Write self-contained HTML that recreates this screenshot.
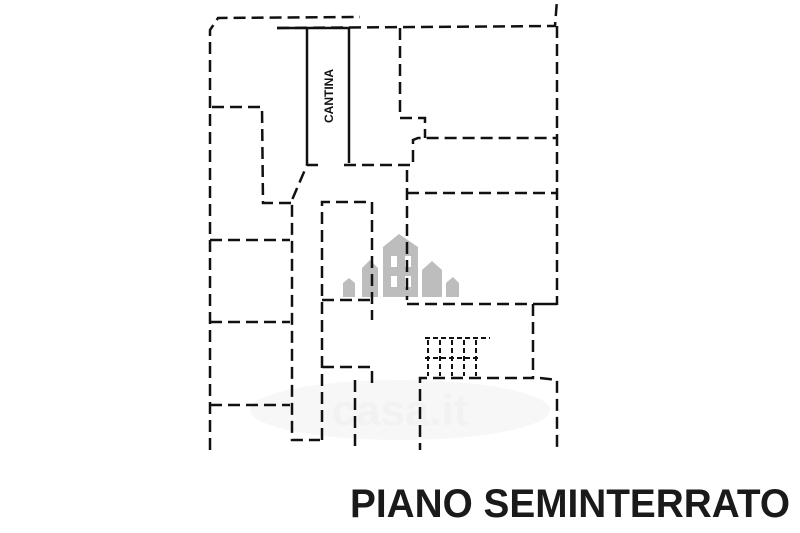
<!DOCTYPE html>
<html><head><meta charset="utf-8"><style>
html,body{margin:0;padding:0;background:#fff;width:800px;height:533px;overflow:hidden}
svg{display:block}
</style></head><body>
<svg width="800" height="533" viewBox="0 0 800 533" xmlns="http://www.w3.org/2000/svg">
<g opacity="0.08">
<ellipse cx="400" cy="410" rx="150" ry="30" fill="#999"/>
</g>
<text x="400" y="425" font-family="Liberation Sans, sans-serif" font-size="44" font-weight="bold" fill="#f2f2f2" text-anchor="middle">casa.it</text>
<g fill="#bdbdbd">
<polygon points="343,297 343,283 349,278 355,283 355,297"/>
<polygon points="362,297 362,268 370,260 378,268 378,297"/>
<polygon points="383,297 383,247 399,234 418,247 418,297"/>
<polygon points="422,297 422,270 432,261 442,270 442,297"/>
<polygon points="446,297 446,283 453,277 459,283 459,297"/>
<rect x="391" y="256" width="6" height="11" fill="#fff"/><rect x="405" y="256" width="6" height="11" fill="#fff"/>
<rect x="391" y="276" width="6" height="11" fill="#fff"/><rect x="405" y="276" width="6" height="11" fill="#fff"/>
</g>
<g fill="none" stroke="#111" stroke-width="2.5" stroke-dasharray="12 6">
<polyline points="210,450 210,30 218,18 360,17"/>
<polyline points="277,28 555,26 557,0"/>
<line x1="557" y1="26" x2="557" y2="305"/>
<polyline points="212,107 262,107 263,203 292,203"/>
<polyline points="318,165 307,165 292,200 292,440 320,440"/>
<polyline points="344,165 413,165 413,140 418,138 557,138"/>
<polyline points="400,28 400,118 425,118 425,138"/>
<polyline points="407,170 407,300"/>
<line x1="407" y1="193" x2="557" y2="193"/>
<polyline points="322,440 322,202 372,202 372,320"/>
<line x1="322" y1="300" x2="372" y2="300"/>
<polyline points="322,367 372,367 372,385"/>
<line x1="355" y1="380" x2="355" y2="450"/>
<line x1="210" y1="240" x2="290" y2="240"/>
<line x1="210" y1="322" x2="290" y2="322"/>
<line x1="210" y1="405" x2="290" y2="405"/>
<line x1="407" y1="304" x2="545" y2="304"/>
<polyline points="533,304 533,378 420,378 420,450"/>
<polyline points="545,304 557,304"/>
<polyline points="540,378 557,380 557,450"/>
</g>
<g stroke="#111" stroke-width="2.5" fill="none">
<line x1="307" y1="28" x2="307" y2="165"/>
<line x1="349" y1="28" x2="349" y2="163"/>
<line x1="277" y1="28" x2="350" y2="28"/>
</g>
<g stroke="#111" stroke-width="2" fill="none" stroke-dasharray="5 3">
<line x1="425" y1="338" x2="490" y2="338"/>
<line x1="425" y1="358" x2="480" y2="358"/>
<line x1="428" y1="340" x2="428" y2="376"/>
<line x1="440" y1="340" x2="440" y2="376"/>
<line x1="452" y1="340" x2="452" y2="376"/>
<line x1="464" y1="340" x2="464" y2="376"/>
<line x1="476" y1="340" x2="476" y2="376"/>
</g>
<text transform="translate(333,96) rotate(-90)" x="0" y="0" font-family="Liberation Sans, sans-serif" font-size="12" font-weight="bold" fill="#111" text-anchor="middle">CANTINA</text>
<text x="350" y="517" font-family="Liberation Sans, sans-serif" font-size="40" font-weight="bold" fill="#1a1a1a" textLength="440" lengthAdjust="spacingAndGlyphs">PIANO SEMINTERRATO</text>
</svg>
</body></html>
